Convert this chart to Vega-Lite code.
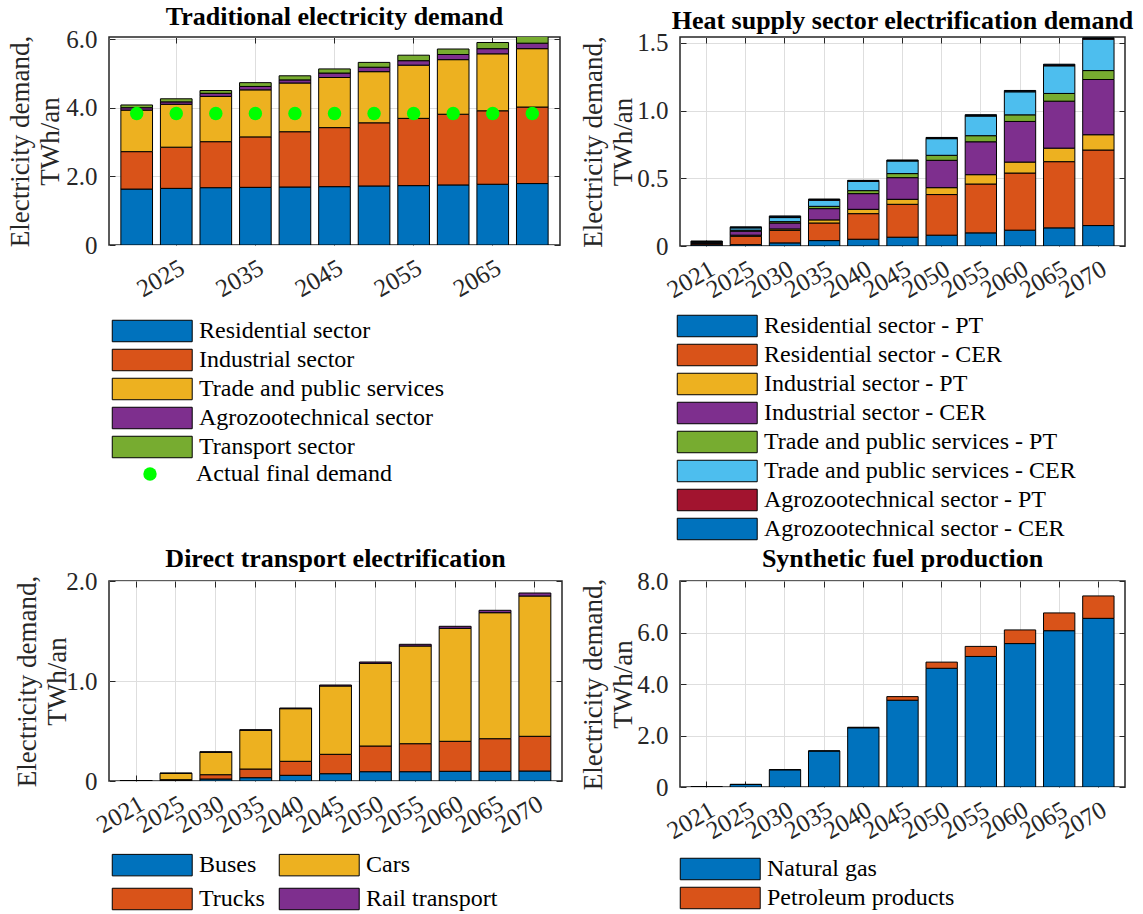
{
"$schema": "https://vega.github.io/schema/vega-lite/v6.json",
"padding": {"left": 5, "top": 3, "right": 5, "bottom": 5},
"background": "white",
"bounds": "flush",
"columns": 2,
"spacing": {"row": 335, "column": 118},
"resolve": {"scale": {"color": "independent", "shape": "independent"}, "legend": {"color": "independent", "shape": "independent"}},
"config": {
  "font": "Liberation Serif",
  "view": {"stroke": "#262626", "strokeWidth": 1.5},
  "title": {"font": "Liberation Serif", "fontSize": 26, "fontWeight": "bold", "color": "#000000", "offset": -3},
  "axis": {"labelFont": "Liberation Serif", "labelFontSize": 25, "labelColor": "#262626", "tickColor": "#262626", "tickSize": -6, "tickWidth": 1, "gridColor": "#dedede", "gridWidth": 1, "domain": false, "titleFont": "Liberation Serif", "titleFontSize": 27, "titleFontWeight": "normal", "titleColor": "#262626"},
  "legend": {"labelFont": "Liberation Serif", "labelFontSize": 24, "labelColor": "#000000", "labelLimit": 500, "padding": 0}
},
"datasets": {
  "trad": [
    {"year":"2021","sector":"Residential sector","value":1.63,"k":1},{"year":"2021","sector":"Industrial sector","value":1.09,"k":2},{"year":"2021","sector":"Trade and public services","value":1.21,"k":3},{"year":"2021","sector":"Agrozootechnical sector","value":0.07,"k":4},{"year":"2021","sector":"Transport sector","value":0.08,"k":5},
    {"year":"2025","sector":"Residential sector","value":1.65,"k":1},{"year":"2025","sector":"Industrial sector","value":1.20,"k":2},{"year":"2025","sector":"Trade and public services","value":1.25,"k":3},{"year":"2025","sector":"Agrozootechnical sector","value":0.07,"k":4},{"year":"2025","sector":"Transport sector","value":0.09,"k":5},
    {"year":"2030","sector":"Residential sector","value":1.67,"k":1},{"year":"2030","sector":"Industrial sector","value":1.34,"k":2},{"year":"2030","sector":"Trade and public services","value":1.32,"k":3},{"year":"2030","sector":"Agrozootechnical sector","value":0.09,"k":4},{"year":"2030","sector":"Transport sector","value":0.08,"k":5},
    {"year":"2035","sector":"Residential sector","value":1.68,"k":1},{"year":"2035","sector":"Industrial sector","value":1.47,"k":2},{"year":"2035","sector":"Trade and public services","value":1.37,"k":3},{"year":"2035","sector":"Agrozootechnical sector","value":0.10,"k":4},{"year":"2035","sector":"Transport sector","value":0.11,"k":5},
    {"year":"2040","sector":"Residential sector","value":1.69,"k":1},{"year":"2040","sector":"Industrial sector","value":1.61,"k":2},{"year":"2040","sector":"Trade and public services","value":1.42,"k":3},{"year":"2040","sector":"Agrozootechnical sector","value":0.09,"k":4},{"year":"2040","sector":"Transport sector","value":0.12,"k":5},
    {"year":"2045","sector":"Residential sector","value":1.70,"k":1},{"year":"2045","sector":"Industrial sector","value":1.72,"k":2},{"year":"2045","sector":"Trade and public services","value":1.46,"k":3},{"year":"2045","sector":"Agrozootechnical sector","value":0.13,"k":4},{"year":"2045","sector":"Transport sector","value":0.12,"k":5},
    {"year":"2050","sector":"Residential sector","value":1.72,"k":1},{"year":"2050","sector":"Industrial sector","value":1.84,"k":2},{"year":"2050","sector":"Trade and public services","value":1.49,"k":3},{"year":"2050","sector":"Agrozootechnical sector","value":0.13,"k":4},{"year":"2050","sector":"Transport sector","value":0.14,"k":5},
    {"year":"2055","sector":"Residential sector","value":1.73,"k":1},{"year":"2055","sector":"Industrial sector","value":1.96,"k":2},{"year":"2055","sector":"Trade and public services","value":1.55,"k":3},{"year":"2055","sector":"Agrozootechnical sector","value":0.13,"k":4},{"year":"2055","sector":"Transport sector","value":0.16,"k":5},
    {"year":"2060","sector":"Residential sector","value":1.75,"k":1},{"year":"2060","sector":"Industrial sector","value":2.06,"k":2},{"year":"2060","sector":"Trade and public services","value":1.59,"k":3},{"year":"2060","sector":"Agrozootechnical sector","value":0.15,"k":4},{"year":"2060","sector":"Transport sector","value":0.16,"k":5},
    {"year":"2065","sector":"Residential sector","value":1.77,"k":1},{"year":"2065","sector":"Industrial sector","value":2.14,"k":2},{"year":"2065","sector":"Trade and public services","value":1.66,"k":3},{"year":"2065","sector":"Agrozootechnical sector","value":0.15,"k":4},{"year":"2065","sector":"Transport sector","value":0.18,"k":5},
    {"year":"2070","sector":"Residential sector","value":1.79,"k":1},{"year":"2070","sector":"Industrial sector","value":2.23,"k":2},{"year":"2070","sector":"Trade and public services","value":1.70,"k":3},{"year":"2070","sector":"Agrozootechnical sector","value":0.16,"k":4},{"year":"2070","sector":"Transport sector","value":0.22,"k":5}
  ],
  "actual": [
    {"year":"2021","label":"Actual final demand","value":3.83},{"year":"2025","label":"Actual final demand","value":3.83},{"year":"2030","label":"Actual final demand","value":3.83},{"year":"2035","label":"Actual final demand","value":3.83},{"year":"2040","label":"Actual final demand","value":3.83},{"year":"2045","label":"Actual final demand","value":3.83},{"year":"2050","label":"Actual final demand","value":3.83},{"year":"2055","label":"Actual final demand","value":3.83},{"year":"2060","label":"Actual final demand","value":3.83},{"year":"2065","label":"Actual final demand","value":3.83},{"year":"2070","label":"Actual final demand","value":3.83}
  ],
  "heat": [
    {"year":"2021","sector":"Residential sector - PT","value":0.008,"k":1},{"year":"2021","sector":"Residential sector - CER","value":0.008,"k":2},{"year":"2021","sector":"Industrial sector - PT","value":0.004,"k":3},{"year":"2021","sector":"Industrial sector - CER","value":0.006,"k":4},{"year":"2021","sector":"Trade and public services - PT","value":0.002,"k":5},{"year":"2021","sector":"Trade and public services - CER","value":0.004,"k":6},{"year":"2021","sector":"Agrozootechnical sector - PT","value":0.002,"k":7},{"year":"2021","sector":"Agrozootechnical sector - CER","value":0.002,"k":8},
    {"year":"2025","sector":"Residential sector - PT","value":0.010,"k":1},{"year":"2025","sector":"Residential sector - CER","value":0.062,"k":2},{"year":"2025","sector":"Industrial sector - PT","value":0.008,"k":3},{"year":"2025","sector":"Industrial sector - CER","value":0.030,"k":4},{"year":"2025","sector":"Trade and public services - PT","value":0.007,"k":5},{"year":"2025","sector":"Trade and public services - CER","value":0.017,"k":6},{"year":"2025","sector":"Agrozootechnical sector - PT","value":0.004,"k":7},{"year":"2025","sector":"Agrozootechnical sector - CER","value":0.003,"k":8},
    {"year":"2030","sector":"Residential sector - PT","value":0.023,"k":1},{"year":"2030","sector":"Residential sector - CER","value":0.093,"k":2},{"year":"2030","sector":"Industrial sector - PT","value":0.010,"k":3},{"year":"2030","sector":"Industrial sector - CER","value":0.044,"k":4},{"year":"2030","sector":"Trade and public services - PT","value":0.010,"k":5},{"year":"2030","sector":"Trade and public services - CER","value":0.030,"k":6},{"year":"2030","sector":"Agrozootechnical sector - PT","value":0.006,"k":7},{"year":"2030","sector":"Agrozootechnical sector - CER","value":0.006,"k":8},
    {"year":"2035","sector":"Residential sector - PT","value":0.040,"k":1},{"year":"2035","sector":"Residential sector - CER","value":0.130,"k":2},{"year":"2035","sector":"Industrial sector - PT","value":0.023,"k":3},{"year":"2035","sector":"Industrial sector - CER","value":0.083,"k":4},{"year":"2035","sector":"Trade and public services - PT","value":0.017,"k":5},{"year":"2035","sector":"Trade and public services - CER","value":0.045,"k":6},{"year":"2035","sector":"Agrozootechnical sector - PT","value":0.005,"k":7},{"year":"2035","sector":"Agrozootechnical sector - CER","value":0.004,"k":8},
    {"year":"2040","sector":"Residential sector - PT","value":0.050,"k":1},{"year":"2040","sector":"Residential sector - CER","value":0.189,"k":2},{"year":"2040","sector":"Industrial sector - PT","value":0.032,"k":3},{"year":"2040","sector":"Industrial sector - CER","value":0.116,"k":4},{"year":"2040","sector":"Trade and public services - PT","value":0.022,"k":5},{"year":"2040","sector":"Trade and public services - CER","value":0.069,"k":6},{"year":"2040","sector":"Agrozootechnical sector - PT","value":0.004,"k":7},{"year":"2040","sector":"Agrozootechnical sector - CER","value":0.003,"k":8},
    {"year":"2045","sector":"Residential sector - PT","value":0.065,"k":1},{"year":"2045","sector":"Residential sector - CER","value":0.243,"k":2},{"year":"2045","sector":"Industrial sector - PT","value":0.037,"k":3},{"year":"2045","sector":"Industrial sector - CER","value":0.160,"k":4},{"year":"2045","sector":"Trade and public services - PT","value":0.030,"k":5},{"year":"2045","sector":"Trade and public services - CER","value":0.093,"k":6},{"year":"2045","sector":"Agrozootechnical sector - PT","value":0.004,"k":7},{"year":"2045","sector":"Agrozootechnical sector - CER","value":0.003,"k":8},
    {"year":"2050","sector":"Residential sector - PT","value":0.080,"k":1},{"year":"2050","sector":"Residential sector - CER","value":0.300,"k":2},{"year":"2050","sector":"Industrial sector - PT","value":0.051,"k":3},{"year":"2050","sector":"Industrial sector - CER","value":0.202,"k":4},{"year":"2050","sector":"Trade and public services - PT","value":0.037,"k":5},{"year":"2050","sector":"Trade and public services - CER","value":0.123,"k":6},{"year":"2050","sector":"Agrozootechnical sector - PT","value":0.005,"k":7},{"year":"2050","sector":"Agrozootechnical sector - CER","value":0.004,"k":8},
    {"year":"2055","sector":"Residential sector - PT","value":0.097,"k":1},{"year":"2055","sector":"Residential sector - CER","value":0.361,"k":2},{"year":"2055","sector":"Industrial sector - PT","value":0.069,"k":3},{"year":"2055","sector":"Industrial sector - CER","value":0.243,"k":4},{"year":"2055","sector":"Trade and public services - PT","value":0.045,"k":5},{"year":"2055","sector":"Trade and public services - CER","value":0.145,"k":6},{"year":"2055","sector":"Agrozootechnical sector - PT","value":0.005,"k":7},{"year":"2055","sector":"Agrozootechnical sector - CER","value":0.005,"k":8},
    {"year":"2060","sector":"Residential sector - PT","value":0.117,"k":1},{"year":"2060","sector":"Residential sector - CER","value":0.422,"k":2},{"year":"2060","sector":"Industrial sector - PT","value":0.081,"k":3},{"year":"2060","sector":"Industrial sector - CER","value":0.300,"k":4},{"year":"2060","sector":"Trade and public services - PT","value":0.049,"k":5},{"year":"2060","sector":"Trade and public services - CER","value":0.170,"k":6},{"year":"2060","sector":"Agrozootechnical sector - PT","value":0.005,"k":7},{"year":"2060","sector":"Agrozootechnical sector - CER","value":0.005,"k":8},
    {"year":"2065","sector":"Residential sector - PT","value":0.134,"k":1},{"year":"2065","sector":"Residential sector - CER","value":0.489,"k":2},{"year":"2065","sector":"Industrial sector - PT","value":0.100,"k":3},{"year":"2065","sector":"Industrial sector - CER","value":0.347,"k":4},{"year":"2065","sector":"Trade and public services - PT","value":0.057,"k":5},{"year":"2065","sector":"Trade and public services - CER","value":0.204,"k":6},{"year":"2065","sector":"Agrozootechnical sector - PT","value":0.006,"k":7},{"year":"2065","sector":"Agrozootechnical sector - CER","value":0.006,"k":8},
    {"year":"2070","sector":"Residential sector - PT","value":0.151,"k":1},{"year":"2070","sector":"Residential sector - CER","value":0.558,"k":2},{"year":"2070","sector":"Industrial sector - PT","value":0.113,"k":3},{"year":"2070","sector":"Industrial sector - CER","value":0.408,"k":4},{"year":"2070","sector":"Trade and public services - PT","value":0.066,"k":5},{"year":"2070","sector":"Trade and public services - CER","value":0.232,"k":6},{"year":"2070","sector":"Agrozootechnical sector - PT","value":0.005,"k":7},{"year":"2070","sector":"Agrozootechnical sector - CER","value":0.005,"k":8}
  ],
  "transport": [
    {"year":"2021","mode":"Buses","value":0.001,"k":1},{"year":"2021","mode":"Trucks","value":0.001,"k":2},{"year":"2021","mode":"Cars","value":0.001,"k":3},{"year":"2021","mode":"Rail transport","value":0.001,"k":4},
    {"year":"2025","mode":"Buses","value":0.007,"k":1},{"year":"2025","mode":"Trucks","value":0.006,"k":2},{"year":"2025","mode":"Cars","value":0.064,"k":3},{"year":"2025","mode":"Rail transport","value":0.002,"k":4},
    {"year":"2030","mode":"Buses","value":0.020,"k":1},{"year":"2030","mode":"Trucks","value":0.043,"k":2},{"year":"2030","mode":"Cars","value":0.224,"k":3},{"year":"2030","mode":"Rail transport","value":0.006,"k":4},
    {"year":"2035","mode":"Buses","value":0.033,"k":1},{"year":"2035","mode":"Trucks","value":0.087,"k":2},{"year":"2035","mode":"Cars","value":0.387,"k":3},{"year":"2035","mode":"Rail transport","value":0.006,"k":4},
    {"year":"2040","mode":"Buses","value":0.057,"k":1},{"year":"2040","mode":"Trucks","value":0.140,"k":2},{"year":"2040","mode":"Cars","value":0.526,"k":3},{"year":"2040","mode":"Rail transport","value":0.007,"k":4},
    {"year":"2045","mode":"Buses","value":0.073,"k":1},{"year":"2045","mode":"Trucks","value":0.194,"k":2},{"year":"2045","mode":"Cars","value":0.683,"k":3},{"year":"2045","mode":"Rail transport","value":0.010,"k":4},
    {"year":"2050","mode":"Buses","value":0.093,"k":1},{"year":"2050","mode":"Trucks","value":0.257,"k":2},{"year":"2050","mode":"Cars","value":0.827,"k":3},{"year":"2050","mode":"Rail transport","value":0.013,"k":4},
    {"year":"2055","mode":"Buses","value":0.093,"k":1},{"year":"2055","mode":"Trucks","value":0.280,"k":2},{"year":"2055","mode":"Cars","value":0.977,"k":3},{"year":"2055","mode":"Rail transport","value":0.017,"k":4},
    {"year":"2060","mode":"Buses","value":0.097,"k":1},{"year":"2060","mode":"Trucks","value":0.300,"k":2},{"year":"2060","mode":"Cars","value":1.130,"k":3},{"year":"2060","mode":"Rail transport","value":0.020,"k":4},
    {"year":"2065","mode":"Buses","value":0.097,"k":1},{"year":"2065","mode":"Trucks","value":0.326,"k":2},{"year":"2065","mode":"Cars","value":1.260,"k":3},{"year":"2065","mode":"Rail transport","value":0.024,"k":4},
    {"year":"2070","mode":"Buses","value":0.100,"k":1},{"year":"2070","mode":"Trucks","value":0.347,"k":2},{"year":"2070","mode":"Cars","value":1.403,"k":3},{"year":"2070","mode":"Rail transport","value":0.030,"k":4}
  ],
  "synth": [
    {"year":"2021","fuel":"Natural gas","value":0.005,"k":1},{"year":"2021","fuel":"Petroleum products","value":0.0,"k":2},
    {"year":"2025","fuel":"Natural gas","value":0.10,"k":1},{"year":"2025","fuel":"Petroleum products","value":0.0,"k":2},
    {"year":"2030","fuel":"Natural gas","value":0.67,"k":1},{"year":"2030","fuel":"Petroleum products","value":0.0,"k":2},
    {"year":"2035","fuel":"Natural gas","value":1.40,"k":1},{"year":"2035","fuel":"Petroleum products","value":0.0,"k":2},
    {"year":"2040","fuel":"Natural gas","value":2.30,"k":1},{"year":"2040","fuel":"Petroleum products","value":0.02,"k":2},
    {"year":"2045","fuel":"Natural gas","value":3.37,"k":1},{"year":"2045","fuel":"Petroleum products","value":0.14,"k":2},
    {"year":"2050","fuel":"Natural gas","value":4.61,"k":1},{"year":"2050","fuel":"Petroleum products","value":0.24,"k":2},
    {"year":"2055","fuel":"Natural gas","value":5.07,"k":1},{"year":"2055","fuel":"Petroleum products","value":0.39,"k":2},
    {"year":"2060","fuel":"Natural gas","value":5.57,"k":1},{"year":"2060","fuel":"Petroleum products","value":0.53,"k":2},
    {"year":"2065","fuel":"Natural gas","value":6.07,"k":1},{"year":"2065","fuel":"Petroleum products","value":0.69,"k":2},
    {"year":"2070","fuel":"Natural gas","value":6.55,"k":1},{"year":"2070","fuel":"Petroleum products","value":0.87,"k":2}
  ]
},
"concat": [
  {
    "width": 451, "height": 208,
    "title": {"text": "Traditional electricity demand"},
    "layer": [
      {"data": {"name": "trad"},
       "mark": {"type": "bar", "stroke": "#000000", "strokeWidth": 1, "clip": true},
       "encoding": {
         "x": {"field": "year", "type": "ordinal", "scale": {"paddingInner": 0.2, "paddingOuter": 0.3},
               "axis": {"orient": "bottom", "title": null, "values": ["2025","2035","2045","2055","2065"], "labelAngle": -30, "labelAlign": "right", "labelBaseline": "top", "labelPadding": 16, "bandPosition": 0.5, "grid": true}},
         "y": {"field": "value", "type": "quantitative", "stack": "zero", "scale": {"domain": [0, 6.06], "nice": false},
               "axis": {"orient": "left", "values": [0,2,4,6], "labelExpr": "datum.value === 0 ? '0' : format(datum.value, '.1f')", "title": ["Electricity demand,", "TWh/an"], "titleX": -75, "titleBaseline": "bottom", "titleLineHeight": 30, "grid": true, "labelPadding": 18}},
         "color": {"field": "sector", "type": "nominal",
               "scale": {"domain": ["Residential sector","Industrial sector","Trade and public services","Agrozootechnical sector","Transport sector"], "range": ["#0072BD","#D95319","#EDB120","#7E2F8E","#77AC30"]},
               "legend": {"orient": "none", "legendX": 2, "legendY": 282, "title": null, "direction": "vertical", "symbolType": "M-1,-1L6.44,-1L6.44,1L-1,1Z", "symbolSize": 462, "symbolStrokeColor": "#000000", "symbolStrokeWidth": 1, "symbolOpacity": 1, "labelOffset": 64, "rowPadding": 3}},
         "order": {"field": "k", "type": "quantitative"}
       }},
      {"data": {"name": "actual"},
       "mark": {"type": "point", "filled": true, "size": 180, "color": "#00FF00", "opacity": 1},
       "encoding": {
         "x": {"field": "year", "type": "ordinal", "axis": {"orient": "top", "title": null, "labels": false, "grid": false, "values": ["2025","2035","2045","2055","2065"], "bandPosition": 0.5}},
         "y": {"field": "value", "type": "quantitative", "scale": {"domain": [0, 6.06], "nice": false}, "axis": {"orient": "right", "title": null, "labels": false, "grid": false, "values": [0,2,4,6]}},
         "shape": {"field": "label", "type": "nominal", "scale": {"range": ["circle"]},
               "legend": {"orient": "none", "legendX": 2, "legendY": 425, "title": null, "symbolType": "circle", "symbolSize": 180, "symbolFillColor": "#00FF00", "symbolStrokeColor": "#00FF00", "symbolOpacity": 1, "symbolOffset": 27, "labelOffset": 34}}
       }}
    ],
    "resolve": {"axis": {"x": "independent", "y": "independent"}}
  },
  {
    "width": 445, "height": 209,
    "title": {"text": "Heat supply sector electrification demand"},
    "layer": [
      {"data": {"name": "heat"},
       "mark": {"type": "bar", "stroke": "#000000", "strokeWidth": 1, "clip": true},
       "encoding": {
         "x": {"field": "year", "type": "ordinal", "scale": {"paddingInner": 0.2, "paddingOuter": 0.28},
               "axis": {"orient": "bottom", "title": null, "labelAngle": -30, "labelAlign": "right", "labelBaseline": "top", "labelPadding": 16, "bandPosition": 0.5, "grid": true}},
         "y": {"field": "value", "type": "quantitative", "stack": "zero", "scale": {"domain": [0, 1.544], "nice": false},
               "axis": {"orient": "left", "values": [0,0.5,1,1.5], "labelExpr": "datum.value === 0 ? '0' : format(datum.value, '.1f')", "title": ["Electricity demand,", "TWh/an"], "titleX": -73, "titleBaseline": "bottom", "titleLineHeight": 30, "grid": true, "labelPadding": 18}},
         "color": {"field": "sector", "type": "nominal",
               "scale": {"domain": ["Residential sector - PT","Residential sector - CER","Industrial sector - PT","Industrial sector - CER","Trade and public services - PT","Trade and public services - CER","Agrozootechnical sector - PT","Agrozootechnical sector - CER"], "range": ["#0072BD","#D95319","#EDB120","#7E2F8E","#77AC30","#4DBEEE","#A2142F","#0072BD"]},
               "legend": {"orient": "none", "legendX": -4, "legendY": 277, "title": null, "direction": "vertical", "symbolType": "M-1,-1L6.44,-1L6.44,1L-1,1Z", "symbolSize": 462, "symbolStrokeColor": "#000000", "symbolStrokeWidth": 1, "symbolOpacity": 1, "labelOffset": 64, "rowPadding": 3}},
         "order": {"field": "k", "type": "quantitative"}
       }},
      {"data": {"name": "heat"},
       "mark": {"type": "bar", "opacity": 0},
       "encoding": {
         "x": {"field": "year", "type": "ordinal", "axis": {"orient": "top", "title": null, "labels": false, "grid": false, "bandPosition": 0.5}},
         "y": {"field": "value", "type": "quantitative", "stack": null, "scale": {"domain": [0, 1.544], "nice": false}, "axis": {"orient": "right", "title": null, "labels": false, "grid": false, "values": [0,0.5,1,1.5]}}
       }}
    ],
    "resolve": {"axis": {"x": "independent", "y": "independent"}}
  },
  {
    "width": 453, "height": 200,
    "title": {"text": "Direct transport electrification"},
    "layer": [
      {"data": {"name": "transport"},
       "mark": {"type": "bar", "stroke": "#000000", "strokeWidth": 1, "clip": true},
       "encoding": {
         "x": {"field": "year", "type": "ordinal", "scale": {"paddingInner": 0.2, "paddingOuter": 0.28},
               "axis": {"orient": "bottom", "title": null, "labelAngle": -30, "labelAlign": "right", "labelBaseline": "top", "labelPadding": 16, "bandPosition": 0.5, "grid": true}},
         "y": {"field": "value", "type": "quantitative", "stack": "zero", "scale": {"domain": [0, 2], "nice": false},
               "axis": {"orient": "left", "values": [0,1,2], "labelExpr": "datum.value === 0 ? '0' : format(datum.value, '.1f')", "title": ["Electricity demand,", "TWh/an"], "titleX": -68, "titleBaseline": "bottom", "titleLineHeight": 30, "grid": true, "labelPadding": 18}},
         "color": {"field": "mode", "type": "nominal",
               "scale": {"domain": ["Buses","Trucks","Cars","Rail transport"], "range": ["#0072BD","#D95319","#EDB120","#7E2F8E"]},
               "legend": {"orient": "none", "legendX": 2, "legendY": 272, "title": null, "direction": "vertical", "columns": 2, "columnPadding": 12, "symbolType": "M-1,-1L6.44,-1L6.44,1L-1,1Z", "symbolSize": 462, "symbolStrokeColor": "#000000", "symbolStrokeWidth": 1, "symbolOpacity": 1, "labelOffset": 64, "rowPadding": 8}},
         "order": {"field": "k", "type": "quantitative"}
       }},
      {"data": {"name": "transport"},
       "mark": {"type": "bar", "opacity": 0},
       "encoding": {
         "x": {"field": "year", "type": "ordinal", "axis": {"orient": "top", "title": null, "labels": false, "grid": false, "bandPosition": 0.5}},
         "y": {"field": "value", "type": "quantitative", "stack": null, "scale": {"domain": [0, 2], "nice": false}, "axis": {"orient": "right", "title": null, "labels": false, "grid": false, "values": [0,1,2]}}
       }}
    ],
    "resolve": {"axis": {"x": "independent", "y": "independent"}}
  },
  {
    "width": 445, "height": 206,
    "title": {"text": "Synthetic fuel production"},
    "layer": [
      {"data": {"name": "synth"},
       "mark": {"type": "bar", "stroke": "#000000", "strokeWidth": 1, "clip": true},
       "encoding": {
         "x": {"field": "year", "type": "ordinal", "scale": {"paddingInner": 0.2, "paddingOuter": 0.28},
               "axis": {"orient": "bottom", "title": null, "labelAngle": -30, "labelAlign": "right", "labelBaseline": "top", "labelPadding": 16, "bandPosition": 0.5, "grid": true}},
         "y": {"field": "value", "type": "quantitative", "stack": "zero", "scale": {"domain": [0, 8], "nice": false},
               "axis": {"orient": "left", "values": [0,2,4,6,8], "labelExpr": "datum.value === 0 ? '0' : format(datum.value, '.1f')", "title": ["Electricity demand,", "TWh/an"], "titleX": -73, "titleBaseline": "bottom", "titleLineHeight": 30, "grid": true, "labelPadding": 18}},
         "color": {"field": "fuel", "type": "nominal",
               "scale": {"domain": ["Natural gas","Petroleum products"], "range": ["#0072BD","#D95319"]},
               "legend": {"orient": "none", "legendX": -1, "legendY": 276, "title": null, "direction": "vertical", "symbolType": "M-1,-1L6.44,-1L6.44,1L-1,1Z", "symbolSize": 462, "symbolStrokeColor": "#000000", "symbolStrokeWidth": 1, "symbolOpacity": 1, "labelOffset": 64, "rowPadding": 3}},
         "order": {"field": "k", "type": "quantitative"}
       }},
      {"data": {"name": "synth"},
       "mark": {"type": "bar", "opacity": 0},
       "encoding": {
         "x": {"field": "year", "type": "ordinal", "axis": {"orient": "top", "title": null, "labels": false, "grid": false, "bandPosition": 0.5}},
         "y": {"field": "value", "type": "quantitative", "stack": null, "scale": {"domain": [0, 8], "nice": false}, "axis": {"orient": "right", "title": null, "labels": false, "grid": false, "values": [0,2,4,6,8]}}
       }}
    ],
    "resolve": {"axis": {"x": "independent", "y": "independent"}}
  }
]
}
